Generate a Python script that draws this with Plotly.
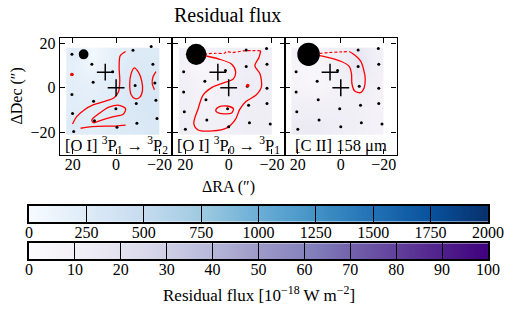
import plotly.graph_objects as go
import plotly.colors as pc

W, H = 529, 313

# ---------------- data ----------------
panel_titles = ["[O I] <sup>3</sup>P<sub>1</sub> → <sup>3</sup>P<sub>2</sub>",
                "[O I] <sup>3</sup>P<sub>0</sub> → <sup>3</sup>P<sub>1</sub>",
                "[C II] 158 μm"]

# residual-flux maps (coarse grid, bin edges in arcsec); rows from bottom (south) to top
map_ra_edges = [23, 16, 6, -4, -13, -20]
map_dec_edges = [-21, -12, -3, 6, 13, 18]
oi63_flux = [[250, 220, 260, 280, 300],
             [220, 200, 250, 300, 320],
             [200, 170, 230, 300, 300],
             [180, 70, 200, 280, 280],
             [220, 50, 180, 250, 260]]
oi145_flux = [[12, 10, 10, 12, 12],
              [10, 8, 10, 12, 12],
              [10, 6, 10, 14, 12],
              [8, 4, 8, 12, 12],
              [10, 8, 10, 12, 10]]
cii_flux = [[14, 14, 12, 10, 8],
            [10, 10, 10, 10, 8],
            [6, 4, 8, 12, 8],
            [6, 4, 10, 18, 10],
            [8, 8, 12, 16, 10]]

# spaxel centres (arcsec offsets)
spax_blue_ra = [20.4, 20.4, 20.4, 20.1, 19.6, 11.2, 10.6, 10.4, 10.0, 1.6, 0.1, -0.4,
                -7.8, -8.8, -9.3, -9.6, -16.2, -17.0, -17.9, -18.4, -18.9]
spax_blue_dec = [15.1, 5.9, -3.0, -11.6, -19.7, 10.6, 2.5, -6.1, -14.8, 7.2, -9.4, -17.8,
                 16.9, 1.0, -7.1, -16.0, 18.5, 10.6, 2.1, -5.6, -13.8]
spax_red_ra = [-8.1, -17.5, 20.8, 1.5, -8.1, 11.0, -17.7, 20.8, -8.6, -17.7, 10.5, 0.5,
               -9.2, -17.7, 20.5, 10.1, 0.0, -9.6, -19.2, 20.0]
spax_red_dec = [17.0, 17.6, 7.2, 7.7, 9.5, 2.9, 10.6, -1.9, 0.7, -0.2, -5.4, -9.4,
                -7.9, -7.1, -10.8, -14.5, -17.5, -15.7, -16.3, -18.7]

# source positions (+)
src_ra = [5.0, 0.0]
src_dec = [7.0, 0.0]

# beam (FWHM, arcsec) and its position
beam_fwhm = [4.5, 9.5, 10.5]
beam_ra, beam_dec = 15.0, 15.0

# contour paths (RA, Dec)
oi63_contours = [
    [(-4.4, 16.3), (-1.9, 14.4), (-1.4, 9.2), (-1.7, 3.2), (-1.1, -1.9), (1.1, -4.6), (5.3, -6.1),
     (10.4, -7.6), (14.9, -10.1), (18.3, -13.1), (20.1, -16.3)],
    [(-8.4, 8.9), (-10.3, 7.0), (-11.8, 3.2), (-12.2, -1.2), (-11.0, -4.2), (-8.8, -4.9), (-6.9, -3.0),
     (-6.3, 1.8), (-6.9, 6.2), (-8.4, 8.9)],
    [(-18.4, 7.2), (-17.0, 4.7), (-16.7, 1.8), (-17.7, -0.9)],
    [(11.2, -14.5), (7.5, -11.3), (3.0, -8.6), (-1.4, -7.9), (-4.4, -9.4), (-3.3, -11.9), (1.6, -13.1),
     (6.7, -14.5), (10.4, -15.7), (11.2, -14.5)],
    [(16.4, -18.2), (11.2, -17.5), (5.3, -17.2), (0.1, -17.2), (-4.4, -16.8)],
]
oi145_contours = [
    [(11.9, 14.6), (4.5, 12.9), (-1.4, 10.6), (-3.2, 7.2), (-2.2, 4.0), (2.3, 2.2), (7.5, 0.3),
     (11.9, -3.4), (14.1, -9.4), (16.1, -16.0), (14.1, -19.0), (7.5, -19.4), (0.8, -18.0),
     (-3.2, -14.1), (-5.1, -9.7), (-8.1, -6.1), (-12.5, -3.4), (-15.1, 0.3), (-14.5, 6.2),
     (-12.1, 9.9), (-14.0, 13.6), (-14.8, 16.6)],
    [(6.0, -10.1), (4.5, -8.6), (0.8, -8.2), (-2.2, -9.4), (-1.4, -11.3), (2.3, -11.7), (5.2, -11.1),
     (6.0, -10.1)],
]
oi145_dashed = [[(-14.8, 16.6), (-7.3, 16.6), (-1.4, 15.8), (1.0, 16.3), (2.0, 15.5), (6.0, 15.5), (11.9, 15.1)]]
cii_contours = [
    [(-4.0, 16.3), (-6.9, 14.4), (-9.2, 12.1), (-10.6, 8.4), (-11.4, 4.0), (-10.9, 0.0), (-9.2, -2.2),
     (-6.5, -1.5), (-5.2, 1.8), (-5.0, 6.2), (-4.0, 9.5), (-0.3, 11.8), (7.1, 13.9), (12.3, 14.8)],
]
cii_dashed = [[(12.3, 15.1), (5.7, 15.8), (-0.3, 16.1), (-4.0, 16.3)]]

# spaxels enclosed by tiny contours (drawn red)
oi63_hot_ra, oi63_hot_dec = [20.4], [5.9]
oi145_hot_ra, oi145_hot_dec = [-8.8], [1.0]

# colour bars
cb_blue_ticks = [0, 250, 500, 750, 1000, 1250, 1500, 1750, 2000]
cb_purple_ticks = [0, 10, 20, 30, 40, 50, 60, 70, 80, 90, 100]
axis_ticks = [-20, 0, 20]
axis_ticktext = ["−20", "0", "20"]

# ---------------- figure ----------------
FONT = "Liberation Serif"
FS = 16
blues = pc.sequential.Blues
purples = pc.sequential.Purples

fig = go.Figure()

panel_px = [(58, 175), (175, 292), (292, 408)]
top_px, bot_px = 35, 153
maps = [(oi63_flux, blues, 2000), (oi145_flux, purples, 100), (cii_flux, purples, 100)]
contours = [oi63_contours, oi145_contours, cii_contours]
dashed = [[], oi145_dashed, cii_dashed]
spax = [(spax_blue_ra, spax_blue_dec), (spax_red_ra, spax_red_dec), (spax_red_ra, spax_red_dec)]
hot = [(oi63_hot_ra, oi63_hot_dec), (oi145_hot_ra, oi145_hot_dec), ([], [])]


def label(x, y, text, size=FS, angle=0):
    fig.add_annotation(xref="paper", yref="paper", x=x / W, y=1 - y / H, text=text,
                       xanchor="center", yanchor="middle", textangle=angle, showarrow=False,
                       font=dict(family=FONT, size=size, color="black"))


for i in range(3):
    xa = "x" if i == 0 else f"x{i+1}"
    ya = "y" if i == 0 else f"y{i+1}"
    z, cs, zmax = maps[i]
    fig.add_trace(go.Heatmap(x=map_ra_edges, y=map_dec_edges, z=z, colorscale=cs, zmin=0, zmax=zmax,
                             showscale=False, zsmooth="best", xaxis=xa, yaxis=ya, hoverinfo="skip"))
    for path in contours[i]:
        fig.add_trace(go.Scatter(x=[p[0] for p in path], y=[p[1] for p in path], mode="lines",
                                 line=dict(color="red", width=1.3, shape="spline", smoothing=0.8),
                                 xaxis=xa, yaxis=ya, showlegend=False, hoverinfo="skip"))
    for path in dashed[i]:
        fig.add_trace(go.Scatter(x=[p[0] for p in path], y=[p[1] for p in path], mode="lines",
                                 line=dict(color="red", width=1.2, dash="3px,2px", shape="spline"),
                                 xaxis=xa, yaxis=ya, showlegend=False, hoverinfo="skip"))
    fig.add_trace(go.Scatter(x=spax[i][0], y=spax[i][1], mode="markers",
                             marker=dict(color="black", size=3), xaxis=xa, yaxis=ya,
                             showlegend=False, hoverinfo="skip"))
    if hot[i][0]:
        fig.add_trace(go.Scatter(x=hot[i][0], y=hot[i][1], mode="markers",
                                 marker=dict(color="red", size=3.5), xaxis=xa, yaxis=ya,
                                 showlegend=False, hoverinfo="skip"))
    fig.add_trace(go.Scatter(x=src_ra, y=src_dec, mode="markers",
                             marker=dict(symbol="cross-thin", size=12, line=dict(color="black", width=1.5)),
                             xaxis=xa, yaxis=ya, showlegend=False, hoverinfo="skip"))
    r = beam_fwhm[i] / 2
    fig.add_shape(type="circle", xref=xa, yref=ya, x0=beam_ra - r, x1=beam_ra + r,
                  y0=beam_dec - r, y1=beam_dec + r, fillcolor="black", line=dict(width=0))
    fig.add_annotation(xref=f"{xa} domain", yref=f"{ya} domain", x=0.5, y=0.08,
                       text=panel_titles[i], showarrow=False, xanchor="center", yanchor="middle",
                       font=dict(family=FONT, size=16.5, color="black"))

    axstyle = dict(showline=True, linecolor="black", linewidth=1.3, mirror="allticks",
                   ticks="inside", ticklen=5, tickwidth=1, tickcolor="black",
                   showgrid=False, zeroline=False, tickvals=axis_ticks, ticktext=axis_ticktext,
                   tickfont=dict(family=FONT, size=FS, color="black"))
    l, rr = panel_px[i]
    fig.layout[("xaxis" if i == 0 else f"xaxis{i+1}")] = dict(
        domain=[l / W, rr / W], range=[26, -26], anchor=ya, ticklabelstandoff=-5, **axstyle)
    fig.layout[("yaxis" if i == 0 else f"yaxis{i+1}")] = dict(
        domain=[1 - bot_px / H, 1 - top_px / H], range=[-30, 22.5], anchor=xa,
        showticklabels=(i == 0), **axstyle)

# colour bars drawn as heatmaps on their own axes (values at the tick positions,
# linearly interpolated by the library)
cb_specs = [(cb_blue_ticks, blues, 204.5, 221), (cb_purple_ticks, purples, 242.5, 258.5)]
for k, (ticks, cs, t, b) in enumerate(cb_specs):
    xa, ya = f"x{4+k}", f"y{4+k}"
    fig.add_trace(go.Heatmap(x=ticks, y=[0, 1], z=[ticks, ticks], colorscale=cs,
                             zmin=ticks[0], zmax=ticks[-1], zsmooth="best", showscale=False,
                             xaxis=xa, yaxis=ya, hoverinfo="skip"))
    fig.layout[f"xaxis{4+k}"] = dict(
        domain=[26 / W, 503 / W], range=[ticks[0], ticks[-1]], anchor=ya,
        showline=True, linecolor="black", linewidth=1.6, mirror=True,
        ticks="inside", ticklen=b - t, tickwidth=1, tickcolor="black", ticklabelstandoff=-5,
        tickvals=ticks, showgrid=False, zeroline=False,
        tickfont=dict(family=FONT, size=FS, color="black"))
    fig.layout[f"yaxis{4+k}"] = dict(
        domain=[1 - b / H, 1 - t / H], range=[0, 1], anchor=xa,
        showline=True, linecolor="black", linewidth=1.6, mirror=True,
        showticklabels=False, ticks="", showgrid=False, zeroline=False)

fig.update_layout(
    width=W, height=H, margin=dict(l=0, r=0, t=0, b=0), autosize=False,
    paper_bgcolor="white", plot_bgcolor="white",
    font=dict(family=FONT, size=FS, color="black"),
)

label(232.5, 12, "Residual flux", size=20)
label(14, 94, "ΔDec (″)", angle=-90)
label(233, 186, "ΔRA (″)")
label(265, 294, "Residual flux [10<sup>−18</sup> W m<sup>−2</sup>]", size=17)

fig.write_html("out.html", config={"displayModeBar": False, "responsive": False},
               post_script="document.documentElement.style.overflow='hidden';"
                           "document.body.style.margin='0';document.body.style.overflow='hidden';")
